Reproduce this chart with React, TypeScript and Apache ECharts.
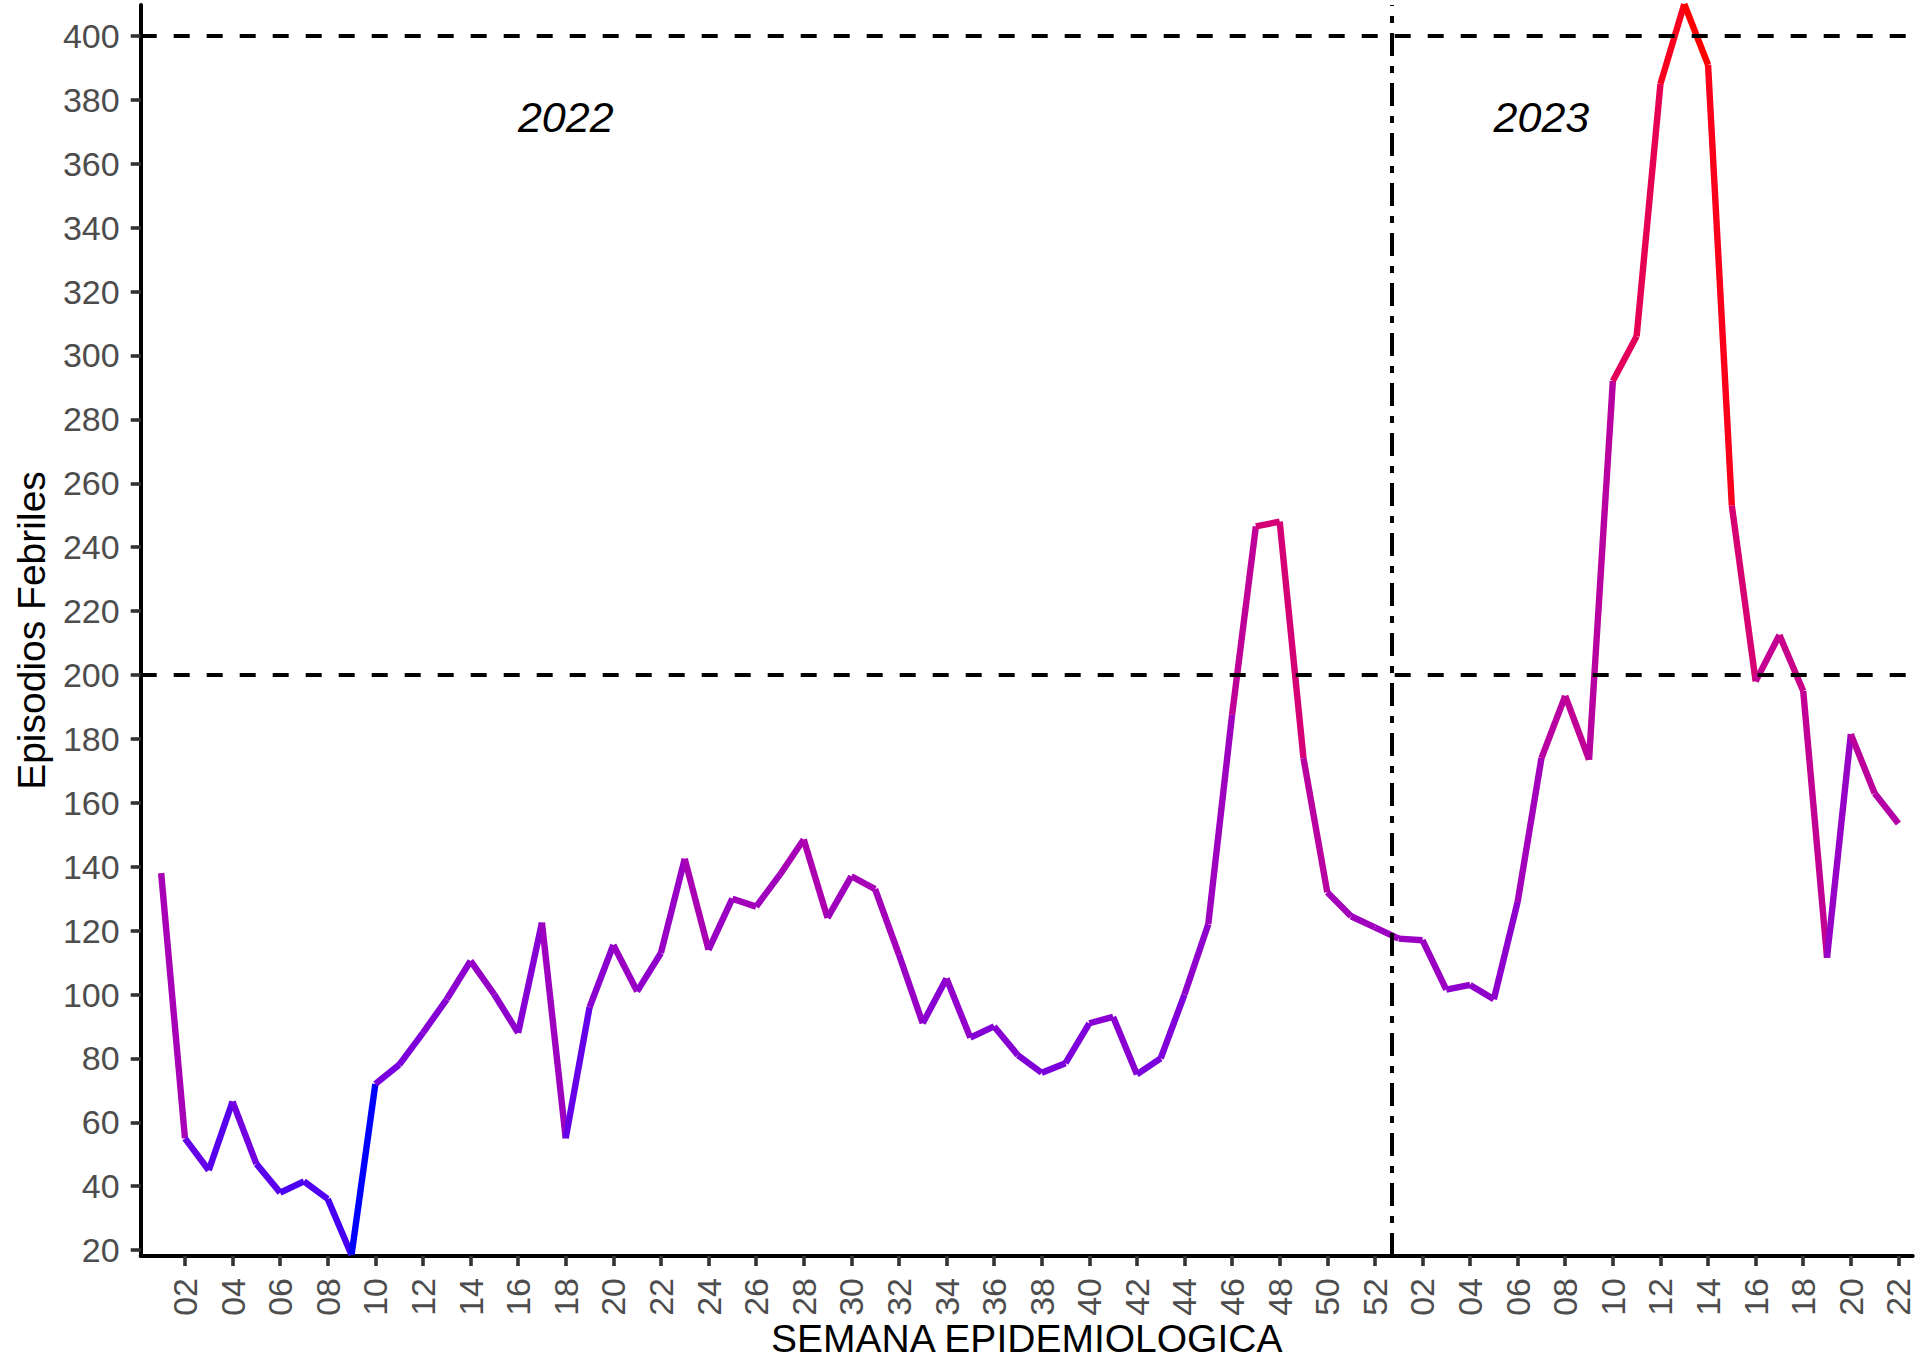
import React, { useEffect, useRef } from 'react';
import * as echarts from 'echarts';

// Weekly febrile episodes, 2022 weeks 01-52
const values2022 = [
  138, 55, 45, 66.5, 47, 38, 41.5, 36, 18.5, 72,
  78, 88, 98.5, 110.5, 100, 88, 122.5, 55, 96, 115.5,
  101, 113, 142.5, 114, 130, 127.5, 137.5, 148.5, 124, 137,
  133, 112.5, 91, 105, 86.5, 90, 81, 75.5, 78.5, 91,
  93, 75, 80, 100, 122, 187.5, 246.5, 248, 174, 132,
  124.5, 121,
];
// 2023 weeks 01-22
const values2023 = [
  117.5, 117, 101.5, 103, 98.5, 129, 174, 193.5, 173.5, 292,
  306, 385, 410, 391, 253, 198, 212.5, 195, 111.5, 181.5,
  163, 153.5,
];

const tickLabels2022 = ['02', '04', '06', '08', '10', '12', '14', '16', '18', '20', '22', '24', '26', '28', '30', '32', '34', '36', '38', '40', '42', '44', '46', '48', '50', '52'];
const tickLabels2023 = ['02', '04', '06', '08', '10', '12', '14', '16', '18', '20', '22'];
const yTicks = [20, 40, 60, 80, 100, 120, 140, 160, 180, 200, 220, 240, 260, 280, 300, 320, 340, 360, 380, 400];
const thresholds = [200, 400];
const yearBreak = 51.7;
const yearLabels = [
  { text: '2022', x: 17, y: 374.5 },
  { text: '2023', x: 58, y: 374.5 },
];

const FONT = '"Liberation Sans", Arial, Helvetica, sans-serif';

// ---- colour helpers (Lab interpolation blue -> red, like ggplot) ----
function toLin(c: number) {
  c /= 255;
  return c <= 0.04045 ? c / 12.92 : Math.pow((c + 0.055) / 1.055, 2.4);
}
function fromLin(c: number) {
  c = Math.max(0, Math.min(1, c));
  const v = c <= 0.0031308 ? 12.92 * c : 1.055 * Math.pow(c, 1 / 2.4) - 0.055;
  return Math.round(Math.max(0, Math.min(1, v)) * 255);
}
const XN = 0.95047, YN = 1.0, ZN = 1.08883;
function fLab(t: number) {
  return t > 0.008856 ? Math.cbrt(t) : 7.787 * t + 16 / 116;
}
function fInv(t: number) {
  const t3 = t * t * t;
  return t3 > 0.008856 ? t3 : (t - 16 / 116) / 7.787;
}
function rgbToLab(rgb: number[]) {
  const R = toLin(rgb[0]), G = toLin(rgb[1]), B = toLin(rgb[2]);
  const X = 0.4124 * R + 0.3576 * G + 0.1805 * B;
  const Y = 0.2126 * R + 0.7152 * G + 0.0722 * B;
  const Z = 0.0193 * R + 0.1192 * G + 0.9505 * B;
  const fx = fLab(X / XN), fy = fLab(Y / YN), fz = fLab(Z / ZN);
  return [116 * fy - 16, 500 * (fx - fy), 200 * (fy - fz)];
}
function labToRgb(lab: number[]) {
  const fy = (lab[0] + 16) / 116;
  const fx = fy + lab[1] / 500;
  const fz = fy - lab[2] / 200;
  const X = XN * fInv(fx), Y = YN * fInv(fy), Z = ZN * fInv(fz);
  const R = 3.2406 * X - 1.5372 * Y - 0.4986 * Z;
  const G = -0.9689 * X + 1.8758 * Y + 0.0415 * Z;
  const B = 0.0557 * X - 0.204 * Y + 1.057 * Z;
  return `rgb(${fromLin(R)},${fromLin(G)},${fromLin(B)})`;
}
const LAB_LOW = rgbToLab([0, 0, 255]);
const LAB_HIGH = rgbToLab([255, 0, 0]);

export default function App() {
  const ref = useRef<HTMLDivElement>(null);

  useEffect(() => {
    if (!ref.current) return;
    const chart = echarts.init(ref.current, undefined, { renderer: 'svg' });

    const allValues = [...values2022, ...values2023];
    const vMin = Math.min(...allValues);
    const vMax = Math.max(...allValues);
    const colorFor = (v: number) => {
      const t = (v - vMin) / (vMax - vMin);
      return labToRgb([
        LAB_LOW[0] + (LAB_HIGH[0] - LAB_LOW[0]) * t,
        LAB_LOW[1] + (LAB_HIGH[1] - LAB_LOW[1]) * t,
        LAB_LOW[2] + (LAB_HIGH[2] - LAB_LOW[2]) * t,
      ]);
    };

    const segments = allValues.slice(0, -1).map((v, i) => [i, v, i + 1, allValues[i + 1]]);

    const tickPos: number[] = [];
    const tickText: Record<number, string> = {};
    tickLabels2022.forEach((w) => {
      const idx = parseInt(w, 10) - 1;
      tickPos.push(idx);
      tickText[idx] = w;
    });
    tickLabels2023.forEach((w) => {
      const idx = values2022.length + parseInt(w, 10) - 1;
      tickPos.push(idx);
      tickText[idx] = w;
    });

    chart.setOption({
      animation: false,
      backgroundColor: '#ffffff',
      grid: { left: 140.7, right: 17.3, top: 5, bottom: 104, containLabel: false },
      xAxis: {
        type: 'value',
        min: -0.86,
        max: 73.6,
        splitLine: { show: false },
        axisLine: { show: true, onZero: false, lineStyle: { color: '#000', width: 4 } },
        axisTick: {
          show: true,
          customValues: tickPos,
          length: 10,
          lineStyle: { color: '#333333', width: 3.6 },
        },
        axisLabel: {
          show: true,
          customValues: tickPos,
          rotate: 90,
          margin: 22,
          color: '#4D4D4D',
          fontSize: 34,
          fontFamily: FONT,
          formatter: (val: number) => tickText[Math.round(val)] ?? '',
        },
      },
      yAxis: {
        type: 'value',
        min: 18.16,
        max: 409.7,
        splitLine: { show: false },
        axisLine: { show: true, onZero: false, lineStyle: { color: '#000', width: 4 } },
        axisTick: {
          show: true,
          customValues: yTicks,
          length: 10,
          lineStyle: { color: '#333333', width: 3.6 },
        },
        axisLabel: {
          show: true,
          customValues: yTicks,
          margin: 21,
          color: '#4D4D4D',
          fontSize: 34,
          fontFamily: FONT,
        },
      },
      graphic: [
        {
          type: 'text',
          x: 31,
          y: 630.5,
          rotation: Math.PI / 2,
          style: {
            text: 'Episodios Febriles',
            fontSize: 39,
            fontFamily: FONT,
            fill: '#000',
            textAlign: 'center',
            textVerticalAlign: 'middle',
          },
        },
        {
          type: 'text',
          x: 1026.7,
          y: 1338,
          style: {
            text: 'SEMANA EPIDEMIOLOGICA',
            fontSize: 39,
            fontFamily: FONT,
            fill: '#000',
            textAlign: 'center',
            textVerticalAlign: 'middle',
          },
        },
      ],
      series: [
        {
          type: 'custom',
          z: 2,
          clip: false,
          encode: { x: [0, 2], y: [1, 3] },
          data: segments,
          renderItem: (params: any, api: any) => {
            const p1 = api.coord([api.value(0), api.value(1)]);
            const p2 = api.coord([api.value(2), api.value(3)]);
            return {
              type: 'line',
              shape: { x1: p1[0], y1: p1[1], x2: p2[0], y2: p2[1] },
              style: { stroke: colorFor(api.value(1)), lineWidth: 6.4, lineCap: 'butt' },
            };
          },
        },
        {
          type: 'scatter',
          z: 3,
          symbolSize: 0,
          silent: true,
          data: yearLabels.map((d) => ({ value: [d.x, d.y], name: d.text })),
          label: {
            show: true,
            position: 'inside',
            formatter: (p: any) => p.name,
            fontSize: 43,
            fontStyle: 'italic',
            fontFamily: FONT,
            color: '#000000',
            textBorderWidth: 0,
            opacity: 1,
          },
          itemStyle: { opacity: 1 },
          markLine: {
            silent: true,
            symbol: ['none', 'none'],
            label: { show: false },
            animation: false,
            data: [
              ...thresholds.map((t) => ({
                yAxis: t,
                lineStyle: { color: '#000', width: 4, type: [16, 17], opacity: 1 },
              })),
              {
                xAxis: yearBreak,
                lineStyle: { color: '#000', width: 4, type: [23, 10, 7, 10], opacity: 1 },
              },
            ],
          },
        },
      ],
    });

    return () => chart.dispose();
  }, []);

  return (
    <div
      ref={ref}
      style={{ position: 'absolute', left: 0, top: 0, width: 1930, height: 1360, background: '#fff' }}
    />
  );
}
